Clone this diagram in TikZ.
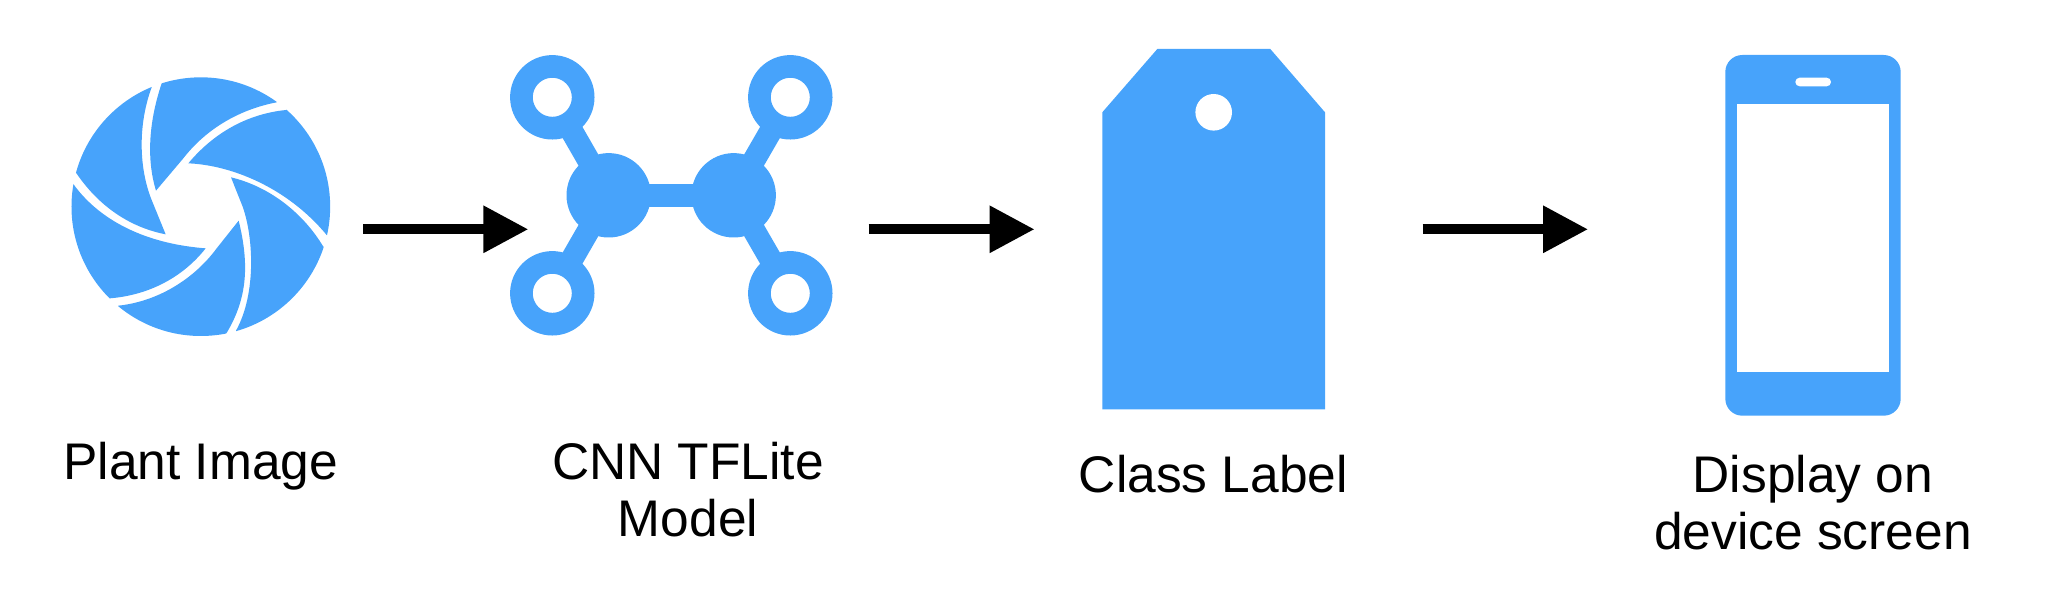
\documentclass[tikz,border=0pt]{standalone}
\usepackage{fontspec}
\setmainfont{Liberation Sans}
\usetikzlibrary{arrows.meta,calc,backgrounds}
\definecolor{iconblue}{HTML}{47A3FB}
\tikzset{
  ring/.style={circle,draw=iconblue,line width=22.7pt,fill=white,minimum size=61.7pt,inner sep=0pt},
  hub/.style={circle,fill=iconblue,minimum size=84.4pt,inner sep=0pt},
  bond/.style={draw=iconblue,line width=22.7pt},
  flow/.style={line width=9.6pt,-{Triangle[length=45pt,width=45pt]}},
  caption/.style={align=center,font=\fontsize{51.5}{57}\selectfont,inner sep=0pt,text=black}
}
\newcommand\apblade[4]{\fill[iconblue] #1 -- ($(c)!1.3!#2$) -- ($(c)!1.6!($#2!.5!#3$)$) -- ($(c)!1.3!#3$) -- #3 #4 -- cycle;}
\begin{document}
\begin{tikzpicture}[x=1pt,y=-1pt]
\useasboundingbox (0,0) rectangle (2056,596);
% aperture
\begin{scope}[shift={(50,50)},scale=0.33333]
\coordinate (c) at (452.5,470);
\clip (c) circle[radius=388];
\apblade{(318,422) -- (400,325) .. controls (470,235) and (570,178) .. (680,157)}{(680,157)}{(335,100)}{.. controls (295,220) and (290,330) .. (318,422)}
\apblade{(415,340) .. controls (490,250) and (590,192) .. (708,180)}{(708,180)}{(830,555)}{.. controls (710,410) and (540,345) .. (415,340)}
\apblade{(543,382) .. controls (660,410) and (760,490) .. (820,590)}{(820,590)}{(558,842)}{.. controls (620,730) and (610,560) .. (578,470) -- (543,382)}
\apblade{(566,512) .. controls (600,650) and (590,750) .. (528,852)}{(528,852)}{(205,767)}{.. controls (320,755) and (430,690) .. (500,595) -- (566,512)}
\apblade{(467,595) .. controls (400,680) and (300,735) .. (180,745)}{(180,745)}{(70,402)}{.. controls (140,500) and (270,580) .. (467,595)}
\apblade{(347,553) .. controls (230,530) and (140,460) .. (78,368)}{(78,368)}{(305,112)}{.. controls (265,220) and (265,350) .. (305,450) -- (347,553)}
\end{scope}
% network
\node[ring] (r1) at (552.3,97.3) {};
\node[ring] (r2) at (790.3,97.3) {};
\node[ring] (r3) at (552.3,293.3) {};
\node[ring] (r4) at (790.3,293.3) {};
\node[hub] (h1) at (608.7,195.3) {};
\node[hub] (h2) at (733.7,195.3) {};
\begin{scope}[on background layer]
\draw[bond] (r1.center) -- (h1.center);
\draw[bond] (r3.center) -- (h1.center);
\draw[bond] (r2.center) -- (h2.center);
\draw[bond] (r4.center) -- (h2.center);
\draw[bond] (h1.center) -- (h2.center);
\end{scope}
% tag
\fill[iconblue] (1102.3,112.3) -- (1157.3,49) -- (1270.3,49) -- (1325,112.3) -- (1325,409.3) -- (1102.3,409.3) -- cycle;
\fill[white] (1213.7,112.3) circle[radius=18.3];
% phone
\fill[iconblue,rounded corners=17pt] (1725.3,55) rectangle (1900.7,415.7);
\fill[white] (1737.3,103.7) rectangle (1889,372);
\fill[white,rounded corners=4.3pt] (1795.3,77.7) rectangle (1831,86.3);
% arrows
\coordinate (a1s) at (363.3,229.3);
\coordinate (a1e) at (528.3,229.3);
\coordinate (a2s) at (868.6,229.3);
\coordinate (a2e) at (1034.5,229.3);
\coordinate (a3s) at (1422.5,229.3);
\coordinate (a3e) at (1588,229.3);
\draw[flow] (a1s) -- (a1e);
\draw[flow] (a2s) -- (a2e);
\draw[flow] (a3s) -- (a3e);
% captions
\node[caption,anchor=base] (t1) at (200.7,479) {Plant Image};
\node[caption] (t2) at (688,490) {CNN TFLite\\Model};
\node[caption,anchor=base] (t3) at (1213.5,492.7) {Class Label};
\node[caption] (t4) at (1813,503) {Display on\\device screen};
\end{tikzpicture}
\end{document}
